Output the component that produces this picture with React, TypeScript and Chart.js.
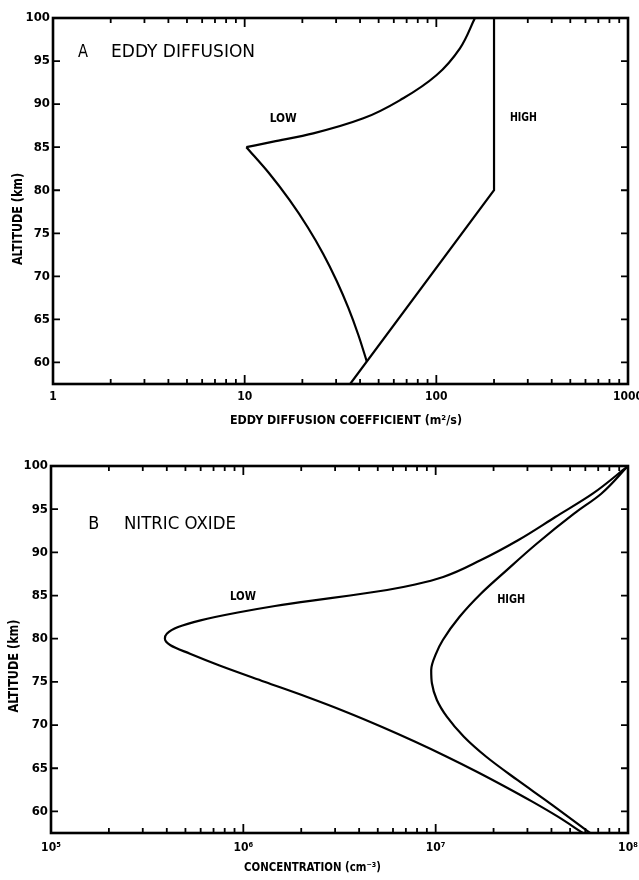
import React, { useEffect, useRef } from "react";
import { Chart, registerables } from "chart.js";

Chart.register(...registerables);

const FONT = '"DejaVu Sans Condensed", "Liberation Sans Narrow", "DejaVu Sans", sans-serif';

// ---------- Panel A : eddy diffusion ----------
const A_LOW_UPPER_ALT = [85, 85.64, 86.61, 88.35, 90.68, 93.38, 96.48, 100];
const A_LOW_UPPER_K = [10.2, 14.1, 22.8, 41.6, 67.2, 100.4, 132.8, 159];
const A_LOW_LOWER_ALT = [60.09, 63.19, 66.33, 69.46, 72.6, 75.73, 78.87, 82.0, 85];
const A_LOW_LOWER_K = [43.4, 39.19, 34.75, 30.22, 25.7, 21.29, 17.13, 13.38, 10.2];
const A_HIGH_ALT = [57.5, 80, 100];
const A_HIGH_K = [35.5, 200, 200];
const A_DECADES = [1, 10, 100, 1000];
const A_X_LABELS = ["1", "10", "100", "1000"];

// ---------- Panel B : nitric oxide ----------
const B_LOW_ALT = [100, 96.79, 94.09, 91.4, 89.08, 87.15, 86.28, 85.64, 85.0, 84.42, 83.79, 83.03, 82.13, 81.35, 80.58, 80.0, 79.24, 78.26, 76.9, 75.02, 73.28, 71.55, 69.81, 68.07, 66.34, 64.6, 62.86, 61.13, 59.39, 57.5];
const B_LOW_NO = [1e8, 6.55e7, 4.19e7, 2.68e7, 1.71e7, 1.094e7, 7.82e6, 5.59e6, 3.59e6, 2.28e6, 1.46e6, 9.36e5, 5.99e5, 4.58e5, 4.0e5, 3.91e5, 4.18e5, 5.28e5, 7.52e5, 1.287e6, 2.13e6, 3.4e6, 5.23e6, 7.83e6, 1.143e7, 1.637e7, 2.3e7, 3.18e7, 4.32e7, 5.82e7];
const B_HIGH_ALT = [100, 96.79, 94.48, 91.0, 87.92, 85.21, 82.51, 79.85, 78.31, 76.38, 74.84, 72.9, 70.97, 68.65, 66.33, 63.64, 60.94, 57.5];
const B_HIGH_NO = [1e8, 7.26e7, 5.24e7, 3.35e7, 2.335e7, 1.717e7, 1.328e7, 1.09e7, 1.006e7, 9.48e6, 9.56e6, 1.0145e7, 1.143e7, 1.402e7, 1.833e7, 2.658e7, 3.93e7, 6.35e7];
const B_DECADES = [1e5, 1e6, 1e7, 1e8];
const B_X_LABELS = ["10⁵", "10⁶", "10⁷", "10⁸"];

const Y_TICKS = [60, 65, 70, 75, 80, 85, 90, 95, 100];
const Y_MIN = 57.5;
const Y_MAX = 100;
const Y_TITLE = "ALTITUDE (km)";

type Ann = { text: string; x: number; y: number; w: number; font: string };
type Panel = {
  top: number;
  area: { left: number; right: number; top: number; bottom: number };
  decades: number[];
  labels: string[];
  tickPad: number;
  series: { xs: number[]; ys: number[]; smooth: boolean }[];
  xTitle: { text: string; cx: number; cy: number; w: number };
  yTitle: { cx: number; cy: number; w: number };
  anns: Ann[];
};

const PANEL_FONT = `normal 18px ${FONT}`;
const LABEL_FONT = `bold 12px ${FONT}`;
const TITLE_FONT = `bold 13px ${FONT}`;
const YTITLE_FONT = `bold 14px ${FONT}`;

const PANELS: Panel[] = [
  {
    top: 0,
    area: { left: 53, right: 628, top: 18, bottom: 384 },
    decades: A_DECADES,
    labels: A_X_LABELS,
    tickPad: 6,
    series: [
      { xs: A_LOW_UPPER_K, ys: A_LOW_UPPER_ALT, smooth: true },
      { xs: A_LOW_LOWER_K, ys: A_LOW_LOWER_ALT, smooth: true },
      { xs: A_HIGH_K, ys: A_HIGH_ALT, smooth: false },
    ],
    xTitle: { text: "EDDY DIFFUSION COEFFICIENT (m²/s)", cx: 346, cy: 421, w: 232 },
    yTitle: { cx: 18.5, cy: 219, w: 92 },
    anns: [
      { text: "A", x: 1.434, y: 96.05, w: 10, font: PANEL_FONT },
      { text: "EDDY DIFFUSION", x: 4.77, y: 96.05, w: 144, font: PANEL_FONT },
      { text: "LOW", x: 15.9, y: 88.27, w: 27, font: LABEL_FONT },
      { text: "HIGH", x: 284.6, y: 88.4, w: 27, font: LABEL_FONT },
    ],
  },
  {
    top: 440,
    area: { left: 51, right: 628, top: 26, bottom: 393 },
    decades: B_DECADES,
    labels: B_X_LABELS,
    tickPad: 8,
    series: [
      { xs: B_LOW_NO, ys: B_LOW_ALT, smooth: true },
      { xs: B_HIGH_NO, ys: B_HIGH_ALT, smooth: true },
    ],
    xTitle: { text: "CONCENTRATION (cm⁻³)", cx: 312.5, cy: 428, w: 137 },
    yTitle: { cx: 14, cy: 226, w: 93 },
    anns: [
      { text: "B", x: 1.67e5, y: 93.3, w: 11, font: PANEL_FONT },
      { text: "NITRIC OXIDE", x: 4.68e5, y: 93.3, w: 112, font: PANEL_FONT },
      { text: "LOW", x: 9.95e5, y: 84.87, w: 26, font: LABEL_FONT },
      { text: "HIGH", x: 2.47e7, y: 84.5, w: 28, font: LABEL_FONT },
    ],
  },
];

function drawText(ctx: CanvasRenderingContext2D, text: string, cx: number, cy: number, font: string, w: number, rotate: boolean) {
  ctx.save();
  ctx.font = font;
  const m = ctx.measureText(text).width || 1;
  ctx.translate(cx, cy);
  if (rotate) ctx.rotate(-Math.PI / 2);
  ctx.scale(w / m, 1);
  ctx.textAlign = "center";
  ctx.textBaseline = "middle";
  ctx.fillStyle = "#000";
  ctx.fillText(text, 0, 0);
  ctx.restore();
}

function logTicks(decades: number[]) {
  const out: { value: number; major: boolean }[] = [];
  for (let i = 0; i < decades.length; i++) {
    const d = decades[i];
    if (i === decades.length - 1) {
      out.push({ value: d, major: true });
    } else {
      for (let m = 1; m <= 9; m++) out.push({ value: m * d, major: m === 1 });
    }
  }
  return out;
}

function buildConfig(p: Panel): any {
  const W = 639;
  const H = 440;
  const ticks = logTicks(p.decades);
  const deco = {
    id: "deco",
    afterDraw(chart: any) {
      const { ctx, chartArea: a } = chart;
      const xs = chart.scales.x;
      const ys = chart.scales.y;
      ctx.save();
      ctx.strokeStyle = "#000";
      ctx.lineWidth = 1.8;
      ctx.beginPath();
      xs.ticks.forEach((t: any) => {
        const px = xs.getPixelForValue(t.value);
        const len = t.major ? 9 : 5;
        ctx.moveTo(px, a.bottom);
        ctx.lineTo(px, a.bottom - len);
        ctx.moveTo(px, a.top);
        ctx.lineTo(px, a.top + len);
      });
      ys.ticks.forEach((t: any) => {
        const py = ys.getPixelForValue(t.value);
        ctx.moveTo(a.left, py);
        ctx.lineTo(a.left + 7, py);
        ctx.moveTo(a.right, py);
        ctx.lineTo(a.right - 7, py);
      });
      ctx.stroke();
      ctx.lineWidth = 2.6;
      ctx.strokeRect(a.left, a.top, a.right - a.left, a.bottom - a.top);
      p.anns.forEach((n) =>
        drawText(ctx, n.text, xs.getPixelForValue(n.x), ys.getPixelForValue(n.y), n.font, n.w, false)
      );
      drawText(ctx, p.xTitle.text, p.xTitle.cx, p.xTitle.cy, TITLE_FONT, p.xTitle.w, false);
      drawText(ctx, Y_TITLE, p.yTitle.cx, p.yTitle.cy, YTITLE_FONT, p.yTitle.w, true);
      ctx.restore();
    },
  };
  return {
    type: "scatter",
    data: {
      datasets: p.series.map((s) => ({
        data: s.xs.map((v, i) => ({ x: v, y: s.ys[i] })),
        indexAxis: "y",
        showLine: true,
        borderColor: "#000",
        borderWidth: 2.2,
        pointRadius: 0,
        pointHoverRadius: 0,
        cubicInterpolationMode: s.smooth ? "monotone" : "default",
        tension: 0,
        fill: false,
      })),
    },
    options: {
      animation: false,
      responsive: false,
      events: [],
      layout: { padding: { left: 0, top: p.area.top, right: W - p.area.right, bottom: 0 } },
      plugins: { legend: { display: false }, tooltip: { enabled: false } },
      scales: {
        x: {
          type: "logarithmic",
          axis: "x",
          position: "bottom",
          min: p.decades[0],
          max: p.decades[p.decades.length - 1],
          grid: { display: false, drawTicks: false },
          border: { display: false },
          afterBuildTicks: (s: any) => {
            s.ticks = ticks.map((t) => ({ ...t }));
          },
          afterFit: (s: any) => {
            s.height = H - p.area.bottom;
            s.paddingLeft = 0;
            s.paddingRight = 0;
            s.paddingTop = 0;
            s.paddingBottom = 0;
          },
          ticks: {
            autoSkip: false,
            maxRotation: 0,
            minRotation: 0,
            padding: p.tickPad,
            color: "#000",
            font: { family: FONT, size: 12, weight: "bold" },
            callback: (v: number) => {
              const i = p.decades.indexOf(v);
              return i >= 0 ? p.labels[i] : "";
            },
          },
        },
        y: {
          type: "linear",
          axis: "y",
          position: "left",
          min: Y_MIN,
          max: Y_MAX,
          grid: { display: false, drawTicks: false },
          border: { display: false },
          afterBuildTicks: (s: any) => {
            s.ticks = Y_TICKS.map((v) => ({ value: v }));
          },
          afterFit: (s: any) => {
            s.width = p.area.left;
            s.paddingLeft = 0;
            s.paddingRight = 0;
            s.paddingTop = 0;
            s.paddingBottom = 0;
          },
          ticks: {
            padding: 3,
            color: "#000",
            font: { family: FONT, size: 13, weight: "bold" },
            callback: (v: number) => String(v),
          },
        },
      },
    },
    plugins: [deco],
  };
}

function PanelChart({ panel }: { panel: Panel }) {
  const ref = useRef<HTMLCanvasElement | null>(null);
  useEffect(() => {
    if (!ref.current) return;
    const chart = new Chart(ref.current, buildConfig(panel));
    return () => chart.destroy();
  }, [panel]);
  return (
    <canvas
      ref={ref}
      width={639}
      height={440}
      style={{ position: "absolute", left: 0, top: panel.top, width: 639, height: 440, display: "block" }}
    />
  );
}

export default function App() {
  return (
    <div style={{ position: "absolute", left: 0, top: 0, width: 639, height: 880, background: "#fff", overflow: "hidden" }}>
      {PANELS.map((p, i) => (
        <PanelChart key={i} panel={p} />
      ))}
    </div>
  );
}
